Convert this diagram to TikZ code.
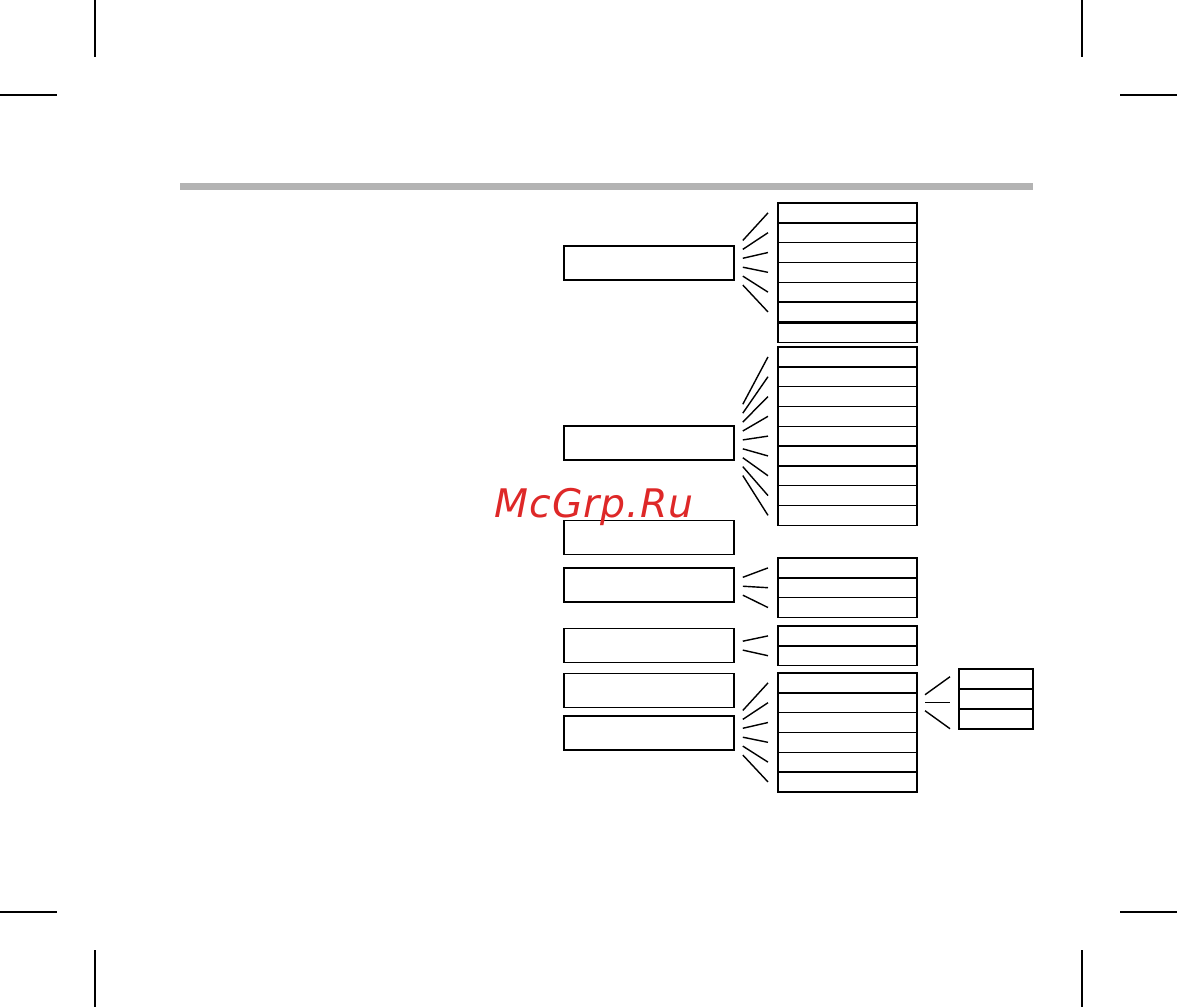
\documentclass[tikz,border=0pt]{standalone}
\usepackage{xcolor}
\usepackage{tikz}
\usetikzlibrary{positioning, calc}
\usepackage{fontspec}
\newfontfamily\markfont{DejaVu Sans Oblique}[LetterSpace=2.5]
\definecolor{BarGray}{RGB}{179,179,179}
\definecolor{MarkRed}{RGB}{222,40,40}

\begin{document}
\begin{tikzpicture}[x=0.025cm, y=-0.025cm,
          grp/.style={rectangle, draw, line width=1pt, minimum width=4.25cm,
                      minimum height=0.85cm, inner sep=0pt, outer sep=0pt},
          cell/.style={rectangle, draw, line width=1pt, minimum width=3.475cm,
                       minimum height=0.495cm, inner sep=0pt, outer sep=0pt},
          subcell/.style={cell, minimum width=1.85cm, minimum height=0.5cm},
          fan/.style={line width=1pt},
          crop/.style={line width=1pt}
        ]
        \useasboundingbox (0,0) rectangle (1177,1007);

        % crop marks
        \draw[crop] (95,0) -- (95,57);     \draw[crop] (0,95) -- (57,95);
        \draw[crop] (1082,0) -- (1082,57); \draw[crop] (1120,95) -- (1177,95);
        \draw[crop] (0,912) -- (57,912);   \draw[crop] (95,950) -- (95,1007);
        \draw[crop] (1120,912) -- (1177,912); \draw[crop] (1082,950) -- (1082,1007);

        % header bar
        \fill[BarGray] (180,183) rectangle (1033,190);

        % group boxes
        \node[grp] (h1) at (649,263) {};
        \node[grp] (h2) at (649,443) {};
        \node[grp] (h3) at (649,537.5) {};
        \node[grp] (h4) at (649,585) {};
        \node[grp] (h5) at (649,645.5) {};
        \node[grp] (h6) at (649,690.5) {};
        \node[grp] (h7) at (649,733) {};

        % list A
        \node[cell, anchor=north] (sa1) at (847.5,203) {};
        \foreach \i [remember=\i as \j (initially 1)] in {2,...,6}
          \node[cell, below=0pt of sa\j] (sa\i) {};
        \node[cell, below=0.8pt of sa6] (sa7) {};

        % list B
        \node[cell, anchor=north] (sb1) at (847.5,347) {};
        \foreach \i [remember=\i as \j (initially 1)] in {2,...,9}
          \node[cell, below=0pt of sb\j] (sb\i) {};

        % list C
        \node[cell, anchor=north] (sc1) at (847.5,558) {};
        \foreach \i [remember=\i as \j (initially 1)] in {2,3}
          \node[cell, below=0pt of sc\j] (sc\i) {};

        % list D
        \node[cell, anchor=north] (sd1) at (847.5,626) {};
        \node[cell, below=0pt of sd1] (sd2) {};

        % list E
        \node[cell, anchor=north] (se1) at (847.5,673) {};
        \foreach \i [remember=\i as \j (initially 1)] in {2,...,6}
          \node[cell, below=0pt of se\j] (se\i) {};

        % sub list F
        \node[subcell, anchor=north] (sf1) at (996,669) {};
        \foreach \i [remember=\i as \j (initially 1)] in {2,3}
          \node[subcell, below=0pt of sf\j] (sf\i) {};

        % fans
        \foreach \i in {1,...,6}
          \draw[fan] ($(h1.east)!.45!(sa\i.west)+(-11,0)$) -- ($(sa\i.west)+(-10,0)$);
        \foreach \i in {1,...,9}
          \draw[fan] ($(h2.east)!.45!(sb\i.west)+(-11,0)$) -- ($(sb\i.west)+(-10,0)$);
        \foreach \i in {1,2,3}
          \draw[fan] ($(h4.east)!.45!(sc\i.west)+(-11,0)$) -- ($(sc\i.west)+(-10,0)$);
        \foreach \i in {1,2}
          \draw[fan] ($(h5.east)!.45!(sd\i.west)+(-11,0)$) -- ($(sd\i.west)+(-10,0)$);
        \foreach \i in {1,...,6}
          \draw[fan] ($(h7.east)!.45!(se\i.west)+(-11,0)$) -- ($(se\i.west)+(-10,0)$);
        \foreach \d in {-1,0,1}
          \draw[fan] ($(se2.east)+(8,8*\d)$) -- ($(se2.east)+(33,26*\d)$);

        % watermark
        \node[font=\markfont\fontsize{28}{28}\selectfont, text=MarkRed, anchor=base]
              (mark) at (594,517) {McGrp.Ru};
      \end{tikzpicture}
\end{document}
